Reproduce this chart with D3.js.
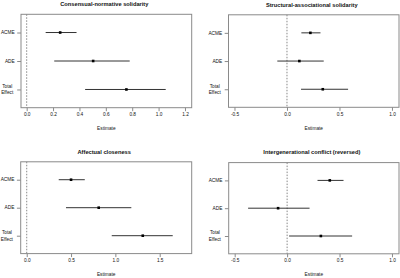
<!DOCTYPE html>
<html><head><meta charset="utf-8">
<script src="https://cdn.jsdelivr.net/npm/d3@7"></script>
<style>body{margin:0;background:#fff}svg{display:block}text{font-family:"Liberation Sans",Arial,Helvetica,sans-serif;fill:#111}</style>
</head><body><svg id="c" width="400" height="278"></svg>
<script>
const panelTitles = ["Consensual-normative solidarity","Structural-associational solidarity","Affectual closeness","Intergenerational conflict (reversed)"];
const effects = ["ACME","ADE","Total\nEffect"];
const estimates = [[0.254,0.504,0.756],[0.223,0.118,0.341],[0.500,0.812,1.309],[0.407,-0.086,0.322]];
const lowerCI = [[0.144,0.209,0.443],[0.137,-0.092,0.134],[0.361,0.443,0.959],[0.290,-0.372,0.019]];
const upperCI = [[0.378,0.781,1.054],[0.319,0.350,0.582],[0.655,1.180,1.647],[0.538,0.214,0.620]];
const xTicks = [[0,0.2,0.4,0.6,0.8,1.0,1.2],[-0.5,0,0.5,1.0],[0,0.5,1.0,1.5],[-0.5,0,0.5,1.0]];
const xDomains = [[-0.043,1.251],[-0.557,1.067],[-0.068,1.861],[-0.557,1.067]];
const xLabel = "Estimate";

const boxes = [
  {l:21,r:191.7,t:14.3,b:107.7},
  {l:228.5,r:399,t:14.8,b:107.3},
  {l:20.7,r:191.7,t:161.8,b:253.6},
  {l:228.7,r:399,t:162.6,b:253.8}
];
const svg = d3.select("#c");
const boxCol = "#8a8a8a";
panelTitles.forEach((title,i)=>{
  const B = boxes[i];
  const g = svg.append("g");
  const x = d3.scaleLinear().domain(xDomains[i]).range([B.l,B.r]);
  const y = d3.scaleLinear().domain([0.36,3.64]).range([B.t,B.b]);
  // zero line
  g.append("line").attr("x1",x(0)).attr("x2",x(0)).attr("y1",B.t).attr("y2",B.b)
    .attr("stroke","#555").attr("stroke-width",0.7).attr("stroke-dasharray","1.5,1.5");
  // box
  g.append("rect").attr("x",B.l).attr("y",B.t).attr("width",B.r-B.l).attr("height",B.b-B.t)
    .attr("fill","none").attr("stroke",boxCol).attr("stroke-width",1);
  // x axis
  const ax = g.append("g").attr("transform",`translate(0,${B.b})`)
    .call(d3.axisBottom(x).tickValues(xTicks[i]).tickSize(3.5).tickPadding(1.5)
      .tickFormat(d=>d.toFixed(1).replace("\u2212","-")));
  ax.select(".domain").remove();
  ax.selectAll("line").attr("stroke",boxCol);
  ax.selectAll("text").attr("font-size","4.75px").attr("fill","#111").attr("font-family","Liberation Sans, Arial, sans-serif");
  // y axis ticks
  const ay = g.append("g").attr("transform",`translate(${B.l},0)`)
    .call(d3.axisLeft(y).tickValues([1,2,3]).tickSize(3.8).tickFormat(""));
  ay.select(".domain").remove();
  ay.selectAll("line").attr("stroke",boxCol);
  effects.forEach((lab,k)=>{
    const lines = lab.split("\n");
    const xr = B.l-6.3;
    const t = g.append("text").attr("font-size","4.75px").attr("y",y(k+1));
    if(lines.length===1){
      t.attr("x",xr).attr("text-anchor","end").attr("dy","0.35em").text(lab);
    } else {
      t.attr("text-anchor","middle");
      lines.forEach((ln,j)=>{
        t.append("tspan").attr("x",xr-7.5).attr("y",y(k+1)+(j-0.5)*6.4).attr("dy","0.35em").text(ln);
      });
    }
  });
  // title
  g.append("text").attr("x",(B.l+B.r)/2-2).attr("y",B.t-8.3).attr("text-anchor","middle")
    .attr("font-size","5.7px").attr("font-weight","bold").text(title);
  // x label
  g.append("text").attr("x",(B.l+B.r)/2).attr("y",B.b+20.6).attr("dy","0.35em").attr("text-anchor","middle")
    .attr("font-size","4.75px").text(xLabel);
  // CI lines and points
  effects.forEach((lab,k)=>{
    g.append("line").attr("x1",x(lowerCI[i][k])).attr("x2",x(upperCI[i][k]))
      .attr("y1",y(k+1)).attr("y2",y(k+1)).attr("stroke","#333").attr("stroke-width",1);
    g.append("rect").attr("x",x(estimates[i][k])-1.3).attr("y",y(k+1)-1.3)
      .attr("width",2.6).attr("height",2.6).attr("fill","#000");
  });
});
</script></body></html>
